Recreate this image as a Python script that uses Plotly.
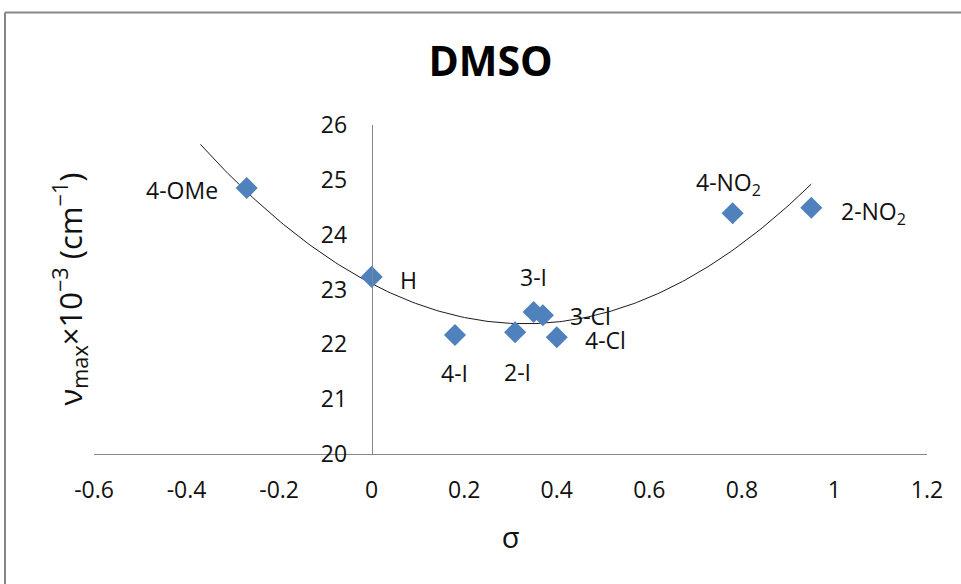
import numpy as np
import plotly.graph_objects as go

# Substituent constants and absorption maxima in DMSO
substituents = ["4-OMe", "H", "4-I", "2-I", "3-I", "3-Cl", "4-Cl", "4-NO<sub>2</sub>", "2-NO<sub>2</sub>"]
sigma = [-0.27, 0.00, 0.18, 0.31, 0.35, 0.37, 0.40, 0.78, 0.95]
nu_max = [24.85, 23.23, 22.17, 22.22, 22.59, 22.53, 22.13, 24.39, 24.49]

# label placement per point: (xanchor, xshift, yshift)
label_place = [
    ("right", -27, -2),
    ("left", 26, -3),
    ("center", 0, -38),
    ("center", 2, -40),
    ("center", 0, 35),
    ("left", 25, -1),
    ("left", 26, -3),
    ("center", -4, 30),
    ("left", 28, -5),
]

W, H = 961, 584
ML, MR, MT, MB = 94, 34, 125, 130
plot_w = W - ML - MR
plot_h = H - MT - MB

FONT = "Open Sans"
GREY = "#868686"
TEXT = "#111111"

# second-order polynomial trendline, extended 0.1 backward
coef = np.polyfit(sigma, nu_max, 2)
xt = np.linspace(min(sigma) - 0.1, max(sigma), 200)
yt = np.polyval(coef, xt)

fig = go.Figure()
fig.add_trace(go.Scatter(
    x=xt, y=yt, mode="lines",
    line=dict(color="#1a1a1a", width=1),
    hoverinfo="skip", showlegend=False,
))
fig.add_trace(go.Scatter(
    x=sigma, y=nu_max, mode="markers",
    marker=dict(symbol="diamond", size=17, color="#4F81BD",
                line=dict(width=0)),
    showlegend=False,
))

for name, sx, sy, (xa, dx, dy) in zip(substituents, sigma, nu_max, label_place):
    fig.add_annotation(
        x=sx, y=sy, text=name, showarrow=False,
        xanchor=xa, yanchor="middle", xshift=dx, yshift=dy,
        font=dict(family=FONT, size=23, color=TEXT),
    )

# y-axis title
fig.add_annotation(
    xref="paper", yref="paper",
    x=(70 - ML) / plot_w, y=0.5,
    text="ν<sub>max</sub>×10<sup>−3</sup> (cm<sup>−1</sup>)",
    textangle=-90, showarrow=False,
    xanchor="center", yanchor="middle",
    font=dict(family=FONT, size=31, color=TEXT),
)

# chart frame (left and top edges)
fx = (5 - ML) / plot_w
fy = (H - MB - 12.5) / plot_h
fig.add_shape(type="line", xref="paper", yref="paper",
              x0=fx, y0=fy, x1=fx, y1=-MB / plot_h - 0.05,
              line=dict(color=GREY, width=2))
fig.add_shape(type="line", xref="paper", yref="paper",
              x0=fx, y0=fy, x1=(W - ML) / plot_w + 0.05, y1=fy,
              line=dict(color=GREY, width=2))

fig.update_layout(
    width=W, height=H,
    margin=dict(l=ML, r=MR, t=MT, b=MB),
    paper_bgcolor="white", plot_bgcolor="white",
    title=dict(text="<b>DMSO</b>", xref="container", yref="container",
               x=490.5 / W, y=1 - 62 / H, xanchor="center", yanchor="middle",
               font=dict(family=FONT, size=41, color="#000000")),
    xaxis=dict(
        range=[-0.6, 1.2], tickvals=[-0.6, -0.4, -0.2, 0, 0.2, 0.4, 0.6, 0.8, 1, 1.2],
        ticktext=["-0.6", "-0.4", "-0.2", "0", "0.2", "0.4", "0.6", "0.8", "1", "1.2"],
        showgrid=False, zeroline=False, showline=True, linecolor=GREY, linewidth=1,
        ticks="", ticklabelstandoff=15,
        tickfont=dict(family=FONT, size=23, color=TEXT),
        title=dict(text="σ", standoff=24, font=dict(family=FONT, size=29, color=TEXT)),
    ),
    yaxis=dict(
        range=[20, 26], tickvals=[20, 21, 22, 23, 24, 25, 26],
        showgrid=False, zeroline=False, showline=True, linecolor=GREY, linewidth=1,
        anchor="free", position=0.6 / 1.8,
        ticks="", ticklabelstandoff=20,
        tickfont=dict(family=FONT, size=23, color=TEXT),
    ),
    font=dict(family=FONT),
)

fig.write_html("out.html")
